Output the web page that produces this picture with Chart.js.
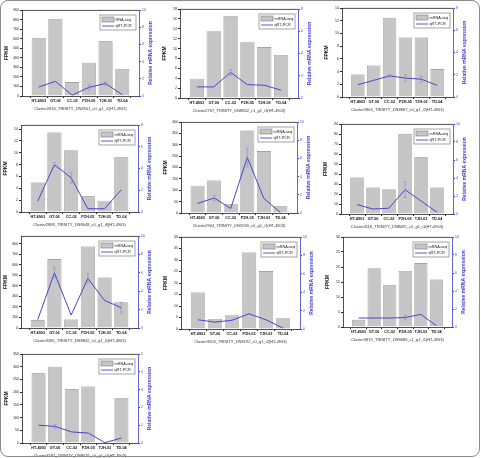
<!DOCTYPE html>
<html>
<head>
<meta charset="utf-8">
<script src="https://cdn.jsdelivr.net/npm/chart.js@4.4.0/dist/chart.umd.min.js"></script>
<style>
    html, body { margin: 0; padding: 0; background: #fff; }
    #fig { position: relative; width: 481px; height: 458px; overflow: hidden; }
    #frame { position: absolute; left: 0; top: 0; width: 478px; height: 455px; border: 1px solid #8a8a8a; border-radius: 8px; pointer-events: none; }
    .panel { position: absolute; }
</style>
</head>
<body>
<div id="fig"><div id="frame"></div></div>
<script>
    'use strict';

    // sample names (x axis)
    var samples = ['HT-4903', 'GT-06', 'CC-02', 'PZH-05', 'TJH-03', 'TD-04'];

    var clusterNames = [
        'Cluster2634_TRINITY_DN8501_c0_g1_i1(HT-4903)',
        'Cluster2767_TRINITY_DN8862_c1_g1_i3(HT-4903)',
        'Cluster2863_TRINITY_DN8867_c0_g1_i2(HT-4903)',
        'Cluster2888_TRINITY_DN8648_c0_g1_i8(HT-4903)',
        'Cluster2904_TRINITY_DN5930_c0_g1_i1(HT-4903)',
        'Cluster3118_TRINITY_DN8085_c0_g1_i1(HT-4903)',
        'Cluster3285_TRINITY_DN8842_c0_g1_i1(HT-4903)',
        'Cluster3503_TRINITY_DN8192_c0_g1_i2(HT-4903)',
        'Cluster3819_TRINITY_DN8686_c1_g1_i1(HT-4903)',
        'Cluster3587_TRINITY_DN8631_c0_g1_i1(HT-4903)'
    ];
    var barLabels = ['RNA-seq', 'mRNA-seq', 'mRNA-seq', 'mRNA-seq', 'mRNA-seq',
                     'mRNA-seq', 'mRNA-seq', 'mRNA-seq', 'mRNA-seq', 'mRNA-seq'];
    var lineLabel = 'qRT-PCR';

    // FPKM (bars, left axis)
    var fpkm1 = [607, 806, 146, 349, 572, 283];
    var fpkm2 = [3.9, 13.5, 16.6, 11.3, 10.3, 8.7];
    var fpkm3 = [3.55, 4.95, 12.45, 9.35, 9.35, 4.4];
    var fpkm4 = [5.0, 13.45, 10.45, 2.65, 1.9, 9.3];
    var fpkm5 = [120, 143, 40, 363, 272, 31];
    var fpkm6 = [36.5, 26.5, 24.8, 80.2, 56.7, 26.5];
    var fpkm7 = [73, 656, 80, 774, 481, 245];
    var fpkm8 = [15.9, 4.4, 6.0, 33.3, 25.2, 4.7];
    var fpkm9 = [2.4, 19.6, 14.0, 18.7, 21.3, 15.8];
    var fpkm10 = [274, 300, 211, 222, 0, 177];

    // relative expression (line, right axis)
    var qpcr1 = [1.05, 1.7, 0.1, 1.0, 1.45, 0.15];
    var qpcr2 = [1.0, 1.0, 2.3, 1.2, 1.15, 0.7];
    var qpcr3 = [1.1, 1.5, 1.9, 1.7, 1.6, 1.05];
    var qpcr4 = [1.0, 4.35, 3.15, 0.3, 0.3, 2.05];
    var qpcr5 = [1.05, 1.65, 0.5, 6.1, 1.6, 0.05];
    var qpcr6 = [1.05, 0.55, 0.65, 2.7, 1.45, 0.2];
    var qpcr7 = [0.9, 6.0, 1.4, 5.4, 3.0, 2.2];
    var qpcr8 = [1.0, 0.75, 0.95, 1.65, 1.0, 0.1];
    var qpcr9 = [1.0, 1.0, 1.0, 1.05, 1.4, 0.15];
    var qpcr10 = [1.0, 0.93, 0.62, 0.56, 0.02, 0.28];

    // qRT-PCR error (+/-)
    var err1 = [0, 0, 0, 0.3, 0.2, 0];
    var err2 = [0, 0, 0.25, 0, 0, 0];
    var err3 = [0, 0, 0.1, 0.3, 0.25, 0];
    var err4 = [0, 0.2, 0.5, 0, 0, 0];
    var err5 = [0, 0.3, 0, 1.0, 0, 0];
    var err6 = [0, 0, 0, 0.85, 0, 0];
    var err7 = [0, 0.6, 0, 0.5, 0, 0.6];
    var err8 = [0, 0, 0, 0, 0, 0];
    var err9 = [0, 0, 0, 0.25, 0, 0];
    var err10 = [0, 0.1, 0, 0, 0, 0];

    // axis ranges
    var leftMax = [900, 18, 14, 14.7, 400, 90, 875, 40, 30, 350];
    var leftStep = [100, 2, 2, 2, 50, 10, 100, 5, 5, 50];
    var rightMax = [10, 8, 8, 8, 10, 10, 10, 10, 10, 5];
    var rightStep = [2, 2, 2, 2, 2, 2, 2, 2, 2, 1];

    var fpkmAll = [fpkm1, fpkm2, fpkm3, fpkm4, fpkm5, fpkm6, fpkm7, fpkm8, fpkm9, fpkm10];
    var qpcrAll = [qpcr1, qpcr2, qpcr3, qpcr4, qpcr5, qpcr6, qpcr7, qpcr8, qpcr9, qpcr10];
    var errAll = [err1, err2, err3, err4, err5, err6, err7, err8, err9, err10];

    // layout: plot area of each panel in page pixels [left, top, right, bottom]
    var plotBoxes = [
        [22, 10, 139, 96], [180, 9, 298, 98], [342, 8, 453, 97],
        [21, 125, 138, 212], [181, 122, 297, 213], [341, 124, 453, 214],
        [21, 236, 138, 328], [181, 237, 300, 329], [343, 237, 452, 327],
        [22, 354, 138, 443]
    ];
    var ML = 26, MR = 26, MT = 10, MB = 18;

    var FONT = "'Liberation Sans', Arial, sans-serif";
    var BLUE = '#4646c8';
    var AXIS_BLUE = '#3c3cd2';
    var BAR_FILL = '#c6c6c6';
    var BAR_EDGE = '#7a7a7a';

    Chart.defaults.font.family = FONT;

    function pad(arr) {
        return [null].concat(arr, [null]);
    }

    function keepSteps(step) {
        return function (scale) {
            scale.ticks = scale.ticks.filter(function (t) {
                var r = t.value / step;
                return Math.abs(r - Math.round(r)) < 1e-6;
            });
        };
    }

    var panelDecor = {
        id: 'panelDecor',
        afterDatasetsDraw: function (chart, args, opts) {
            var ctx = chart.ctx;
            var area = chart.chartArea;
            var xs = chart.scales.x;
            var y1 = chart.scales.y1;
            ctx.save();

            // top frame line
            ctx.strokeStyle = '#222';
            ctx.lineWidth = 0.8;
            ctx.beginPath();
            ctx.moveTo(area.left, area.top + 0.4);
            ctx.lineTo(area.right, area.top + 0.4);
            ctx.stroke();

            // error bars on qRT-PCR points
            ctx.strokeStyle = '#8686d6';
            ctx.lineWidth = 0.6;
            opts.errors.forEach(function (e, i) {
                if (!e) return;
                var v = opts.values[i];
                var px = xs.getPixelForValue(i + 1);
                var pt = y1.getPixelForValue(v + e);
                var pb = y1.getPixelForValue(Math.max(v - e, 0));
                ctx.beginPath();
                ctx.moveTo(px, pt); ctx.lineTo(px, pb);
                ctx.moveTo(px - 1.5, pt); ctx.lineTo(px + 1.5, pt);
                ctx.moveTo(px - 1.5, pb); ctx.lineTo(px + 1.5, pb);
                ctx.stroke();
            });

            // legend box
            var lw = 36, lh = 15;
            var lx = area.right - lw - 3, ly = area.top + 5;
            ctx.fillStyle = '#fff';
            ctx.fillRect(lx, ly, lw, lh);
            ctx.strokeStyle = '#666';
            ctx.lineWidth = 0.6;
            ctx.strokeRect(lx, ly, lw, lh);
            ctx.fillStyle = BAR_FILL;
            ctx.fillRect(lx + 2, ly + 2, 12, 5);
            ctx.strokeStyle = BAR_EDGE;
            ctx.strokeRect(lx + 2, ly + 2, 12, 5);
            ctx.strokeStyle = BLUE;
            ctx.lineWidth = 0.9;
            ctx.beginPath();
            ctx.moveTo(lx + 2, ly + 11);
            ctx.lineTo(lx + 14, ly + 11);
            ctx.stroke();
            ctx.fillStyle = '#222';
            ctx.font = '3.8px ' + FONT;
            ctx.textAlign = 'left';
            ctx.textBaseline = 'middle';
            ctx.fillText(opts.barLabel, lx + 15.5, ly + 4.5);
            ctx.fillText(opts.lineLabel, lx + 15.5, ly + 11);

            // right axis title, reading bottom to top
            ctx.translate(area.right + 12, (area.top + area.bottom) / 2);
            ctx.rotate(-Math.PI / 2);
            ctx.fillStyle = AXIS_BLUE;
            ctx.font = 'bold 5px ' + FONT;
            ctx.textAlign = 'center';
            ctx.fillText('Relative mRNA expression', 0, 0);
            ctx.restore();
        }
    };

    var fig = document.getElementById('fig');
    var charts = [];

    plotBoxes.forEach(function (box, k) {
        var cw = box[2] - box[0] + ML + MR;
        var ch = box[3] - box[1] + MT + MB;
        var canvas = document.createElement('canvas');
        canvas.className = 'panel';
        canvas.width = cw;
        canvas.height = ch;
        canvas.style.left = (box[0] - ML) + 'px';
        canvas.style.top = (box[1] - MT) + 'px';
        canvas.style.width = cw + 'px';
        canvas.style.height = ch + 'px';
        fig.insertBefore(canvas, document.getElementById('frame'));

        charts.push(new Chart(canvas, {
            type: 'bar',
            data: {
                labels: pad(samples).map(function (s) { return s || ''; }),
                datasets: [{
                    type: 'line',
                    label: lineLabel,
                    data: pad(qpcrAll[k]),
                    yAxisID: 'y1',
                    borderColor: BLUE,
                    borderWidth: 1,
                    pointRadius: 0,
                    tension: 0,
                    order: 0
                }, {
                    type: 'bar',
                    label: barLabels[k],
                    data: pad(fpkmAll[k]),
                    yAxisID: 'y',
                    backgroundColor: BAR_FILL,
                    borderColor: BAR_EDGE,
                    borderWidth: 0.6,
                    barPercentage: 0.84,
                    categoryPercentage: 1,
                    order: 1
                }]
            },
            options: {
                responsive: false,
                animation: false,
                devicePixelRatio: 1,
                layout: { padding: { top: MT, left: 0, right: 0, bottom: 0 } },
                plugins: {
                    legend: { display: false },
                    tooltip: { enabled: false },
                    panelDecor: {
                        errors: errAll[k],
                        values: qpcrAll[k],
                        barLabel: barLabels[k],
                        lineLabel: lineLabel
                    }
                },
                scales: {
                    x: {
                        type: 'category',
                        offset: false,
                        grid: { display: true, drawOnChartArea: false, drawTicks: true, tickLength: 2, tickColor: '#222' },
                        border: { display: true, color: '#222', width: 0.8 },
                        ticks: { autoSkip: false, maxRotation: 0, minRotation: 0, padding: 0.5, color: '#111', font: { size: 3.8, weight: 'bold' } },
                        title: { display: true, text: clusterNames[k], color: '#333', font: { size: 4 }, padding: { top: 0, bottom: 2.6 } },
                        afterFit: function (scale) { scale.height = MB; }
                    },
                    y: {
                        position: 'left',
                        min: 0,
                        max: leftMax[k],
                        grid: { display: true, drawOnChartArea: false, drawTicks: true, tickLength: 2, tickColor: '#222' },
                        border: { display: true, color: '#222', width: 0.8 },
                        ticks: { stepSize: leftStep[k], padding: 1, color: '#222', font: { size: 3.5 } },
                        title: { display: true, text: 'FPKM', color: '#111', font: { size: 5, weight: 'bold' }, padding: { top: 8, bottom: 0 } },
                        afterBuildTicks: keepSteps(leftStep[k]),
                        afterFit: function (scale) { scale.width = ML; }
                    },
                    y1: {
                        position: 'right',
                        min: 0,
                        max: rightMax[k],
                        grid: { display: true, drawOnChartArea: false, drawTicks: true, tickLength: 2, tickColor: AXIS_BLUE },
                        border: { display: true, color: AXIS_BLUE, width: 0.8 },
                        ticks: { stepSize: rightStep[k], padding: 1, color: AXIS_BLUE, font: { size: 3.5 } },
                        afterFit: function (scale) { scale.width = MR; }
                    }
                }
            },
            plugins: [panelDecor]
        }));
    });
</script>
</body>
</html>
